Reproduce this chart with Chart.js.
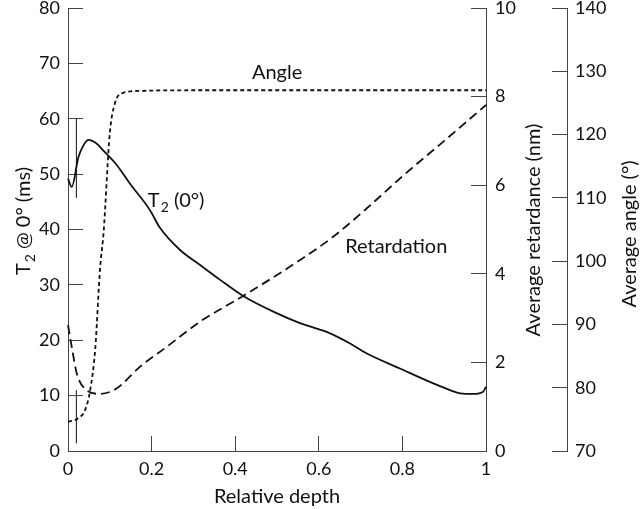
<!DOCTYPE html>
<html>
<head>
<meta charset="utf-8">
<script src="https://cdn.jsdelivr.net/npm/chart.js@4"></script>
<style>
  html, body { margin: 0; padding: 0; background: #fff; }
  canvas { display: block; }
</style>
</head>
<body>
<canvas id="chart" width="640" height="509"></canvas>
<script>
// T2 @ 0 deg (ms) against relative depth
const depthT2 = [0, 0.009, 0.025, 0.037, 0.049, 0.069, 0.084, 0.117, 0.148, 0.196, 0.22, 0.268, 0.316, 0.364, 0.419, 0.499, 0.555, 0.619, 0.675, 0.715, 0.794, 0.874, 0.914, 0.938, 0.97, 0.993, 1.0];
const t2Values = [49.2, 47.7, 53.1, 55.2, 56.2, 55.5, 54.3, 51.6, 48.3, 43.5, 40.3, 36.3, 33.6, 30.9, 28.0, 24.9, 23.1, 21.5, 19.4, 17.6, 14.9, 12.2, 11.0, 10.4, 10.3, 10.7, 11.6];

// average angle (deg)
const depthAngle = [0, 0.025, 0.041, 0.053, 0.065, 0.077, 0.085, 0.1, 0.112, 0.132, 0.172, 0.3, 0.6, 1.0];
const angleValues = [74.6, 75.2, 76.5, 79.6, 86.0, 99.1, 104.4, 120.2, 124.9, 126.6, 126.9, 127.0, 127.0, 127.0];

// average retardance (nm)
const depthRet = [0, 0.009, 0.021, 0.04, 0.077, 0.116, 0.172, 0.236, 0.316, 0.419, 0.555, 0.635, 0.715, 0.8, 0.9, 1.0];
const retValues = [2.84, 2.35, 1.75, 1.41, 1.29, 1.41, 1.90, 2.35, 2.92, 3.50, 4.31, 4.84, 5.48, 6.2, 7.0, 7.81];

// error bars near the surface
const errDepth = 0.02;
const errT2 = [45.7, 60];
const errAngle = [71.2, 79.6];

const FONT = "Lato";
const INK = "#111";
const AXIS = "#444";

function toXY (xs, ys) { return xs.map((x, i) => ({x: x, y: ys[i]})); }

// draws curve labels and rotated axis titles
const textPlugin = {
    id: "texts",
    afterDraw (chart) {
        const ctx = chart.ctx;
        const sx = chart.scales.x, sT = chart.scales.yT, sR = chart.scales.yR, sA = chart.scales.yA;
        ctx.save();
        ctx.fillStyle = INK;
        ctx.textBaseline = "alphabetic";
        ctx.textAlign = "left";
        ctx.font = "20px " + FONT;

        // curve labels
        ctx.fillText("Angle", sx.getPixelForValue(0.44), sA.getPixelForValue(128.8));
        ctx.fillText("Retardation", sx.getPixelForValue(0.663), sR.getPixelForValue(4.47));
        drawSub(ctx, sx.getPixelForValue(0.191), sT.getPixelForValue(44.0), "T", "2", " (0°)");

        // x title
        ctx.textAlign = "center";
        ctx.fillText("Relative depth", (chart.chartArea.left + chart.chartArea.right) / 2, 503);

        // left title
        ctx.save();
        ctx.translate(sT.left + 30, 221);
        ctx.rotate(-Math.PI / 2);
        const w = subWidth(ctx, "T", "2", " @ 0° (ms)");
        drawSub(ctx, -w / 2, 0, "T", "2", " @ 0° (ms)");
        ctx.restore();

        // right titles
        ctx.save();
        ctx.translate(sR.left + 54, 230);
        ctx.rotate(-Math.PI / 2);
        ctx.textAlign = "center";
        ctx.fillText("Average retardance (nm)", 0, 0);
        ctx.restore();

        ctx.save();
        ctx.translate(sA.left + 69, 234);
        ctx.rotate(-Math.PI / 2);
        ctx.textAlign = "center";
        ctx.fillText("Average angle (°)", 0, 0);
        ctx.restore();

        ctx.restore();
    }
};

function subWidth (ctx, a, sub, rest) {
    ctx.font = "20px " + FONT; let w = ctx.measureText(a).width + ctx.measureText(rest).width;
    ctx.font = "14px " + FONT; w += ctx.measureText(sub).width + 1;
    ctx.font = "20px " + FONT; return w; }

function drawSub (ctx, x, y, a, sub, rest) {
    ctx.textAlign = "left";
    ctx.font = "20px " + FONT; ctx.fillText(a, x, y); x += ctx.measureText(a).width + 1;
    ctx.font = "14px " + FONT; ctx.fillText(sub, x, y + 5); x += ctx.measureText(sub).width;
    ctx.font = "20px " + FONT; ctx.fillText(rest, x, y); }

function axisStyle (min, max, step, pad, size) {
    return {
        min: min, max: max,
        border: { display: true, color: AXIS, width: 1 },
        grid: { drawOnChartArea: false, drawTicks: true, tickLength: -15, color: AXIS, lineWidth: 1 },
        ticks: { stepSize: step, padding: pad, color: INK, font: { family: FONT, size: 18 },
                 callback: (v) => String(Number(v.toFixed(2))) },
        afterFit: (scale) => {
            if (scale.isHorizontal()) { scale.height = size; } else { scale.width = size; }
            scale.paddingTop = 0; scale.paddingBottom = 0; scale.paddingLeft = 0; scale.paddingRight = 0; }
    };
}

const scales = {
    x: Object.assign({ type: "linear", position: "bottom" }, axisStyle(0, 1, 0.2, 22, 58)),
    yT: Object.assign({ type: "linear", position: "left" }, axisStyle(0, 80, 10, 23, 68)),
    yR: Object.assign({ type: "linear", position: "right", weight: 0 }, axisStyle(0, 10, 2, 24, 81)),
    yA: Object.assign({ type: "linear", position: "right", weight: 1 }, axisStyle(70, 140, 10, 23, 73))
};

new Chart(document.getElementById("chart"), {
    type: "line",
    data: {
        datasets: [
            { data: toXY(depthT2, t2Values), yAxisID: "yT", borderColor: INK, borderWidth: 1.8, cubicInterpolationMode: "monotone" },
            { data: toXY(depthAngle, angleValues), yAxisID: "yA", borderColor: INK, borderWidth: 1.8, borderDash: [4, 3], cubicInterpolationMode: "monotone" },
            { data: toXY(depthRet, retValues), yAxisID: "yR", borderColor: INK, borderWidth: 1.8, borderDash: [9, 5], cubicInterpolationMode: "monotone" },
            { data: errT2.map(v => ({x: errDepth, y: v})), yAxisID: "yT", borderColor: INK, borderWidth: 1 },
            { data: errAngle.map(v => ({x: errDepth, y: v})), yAxisID: "yA", borderColor: INK, borderWidth: 1 }
        ]
    },
    options: {
        responsive: false,
        devicePixelRatio: 1,
        animation: false,
        clip: false,
        layout: { padding: { top: 8, left: 0, right: 0, bottom: 0 }, autoPadding: false },
        elements: { point: { radius: 0 } },
        plugins: { legend: { display: false }, tooltip: { enabled: false }, title: { display: false } },
        scales: scales
    },
    plugins: [textPlugin]
});
</script>
</body>
</html>
